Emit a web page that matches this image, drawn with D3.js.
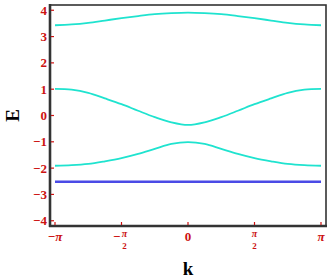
<!DOCTYPE html>
<html>
<head>
<meta charset="utf-8">
<script src="https://cdn.jsdelivr.net/npm/d3@7"></script>
<style>
  body { margin: 0; background: #fff; }
  svg { display: block; }
</style>
</head>
<body>
<div id="chart"></div>
<script>
var PI = Math.PI;

var kValues = [-PI, -7 * PI / 8, -3 * PI / 4, -5 * PI / 8, -PI / 2, -3 * PI / 8, -PI / 4, -PI / 8, 0,
  PI / 8, PI / 4, 3 * PI / 8, PI / 2, 5 * PI / 8, 3 * PI / 4, 7 * PI / 8, PI];
var band1 = [3.43, 3.46, 3.52, 3.61, 3.70, 3.78, 3.85, 3.89, 3.91,
  3.89, 3.85, 3.78, 3.70, 3.61, 3.52, 3.46, 3.43];
var band2 = [1.01, 0.98, 0.86, 0.65, 0.43, 0.18, -0.06, -0.26, -0.36,
  -0.26, -0.06, 0.18, 0.43, 0.65, 0.86, 0.98, 1.01];
var band3 = [-1.91, -1.89, -1.84, -1.74, -1.62, -1.46, -1.27, -1.08, -1.01,
  -1.08, -1.27, -1.46, -1.62, -1.74, -1.84, -1.89, -1.91];
var flatBand = [-2.52, -2.52, -2.52, -2.52, -2.52, -2.52, -2.52, -2.52, -2.52,
  -2.52, -2.52, -2.52, -2.52, -2.52, -2.52, -2.52, -2.52];

var yTicks = [-4, -3, -2, -1, 0, 1, 2, 3, 4];
var xTicks = [-PI, -PI / 2, 0, PI / 2, PI];
var xTickLabels = [
  { sign: '\u2212', num: '\u03C0', den: null },
  { sign: '\u2212', num: '\u03C0', den: '2' },
  { sign: '', num: '0', den: null },
  { sign: '', num: '\u03C0', den: '2' },
  { sign: '', num: '\u03C0', den: null }
];

var w = 327, h = 280;
var mLeft = 50, mRight = 326, mTop = 5, mBottom = 226;
var red = '#cc1111';
var serif = '"Liberation Serif", "DejaVu Serif", serif';

var svg = d3.select('#chart').append('svg').attr('width', w).attr('height', h);

var pad = 0.118;
var x = d3.scaleLinear().domain([-PI - pad, PI + pad]).range([mLeft, mRight]);
var y = d3.scaleLinear().domain([-4.2, 4.2]).range([mBottom, mTop]);

// bands
var line = d3.line()
  .x(function(d, i) { return x(kValues[i]); })
  .y(function(d) { return y(d); })
  .curve(d3.curveCatmullRom);

var bands = [
  { values: band1, color: '#1fe3cf' },
  { values: band2, color: '#1fe3cf' },
  { values: band3, color: '#1fe3cf' },
  { values: flatBand, color: '#4b4be6' }
];

svg.append('g').selectAll('path')
  .data(bands)
  .enter()
  .append('path')
  .attr('d', function(d) { return line(d.values); })
  .attr('fill', 'none')
  .attr('stroke', function(d) { return d.color; })
  .attr('stroke-width', function(d) { return d.color == '#4b4be6' ? 2.4 : 1.8; });

// frame
svg.append('rect')
  .attr('x', mLeft).attr('y', mTop)
  .attr('width', mRight - mLeft).attr('height', mBottom - mTop)
  .attr('fill', 'none').attr('stroke', '#333').attr('stroke-width', 1.6);
svg.append('line')
  .attr('x1', mLeft).attr('x2', mLeft).attr('y1', mTop - 1).attr('y2', mBottom + 1)
  .attr('stroke', '#333').attr('stroke-width', 2.6);
svg.append('line')
  .attr('x1', mLeft - 1).attr('x2', mRight + 1).attr('y1', mBottom).attr('y2', mBottom)
  .attr('stroke', '#333').attr('stroke-width', 2.6);

// y ticks
var yAxis = svg.append('g');
yAxis.selectAll('line')
  .data(yTicks)
  .enter()
  .append('line')
  .attr('x1', mLeft + 1).attr('x2', mLeft + 4)
  .attr('y1', function(d) { return y(d); })
  .attr('y2', function(d) { return y(d); })
  .attr('stroke', red).attr('stroke-width', 1.2);

yAxis.selectAll('text')
  .data(yTicks)
  .enter()
  .append('text')
  .attr('x', mLeft - 3)
  .attr('y', function(d) { return y(d) + 4.5; })
  .attr('text-anchor', 'end')
  .attr('font-family', serif)
  .attr('font-weight', 'bold')
  .attr('font-size', 13)
  .attr('fill', red)
  .text(function(d) { return d < 0 ? '\u2212' + Math.abs(d) : d; });

// x ticks
var xAxis = svg.append('g');
xAxis.selectAll('line')
  .data(xTicks)
  .enter()
  .append('line')
  .attr('x1', function(d) { return x(d); })
  .attr('x2', function(d) { return x(d); })
  .attr('y1', mBottom - 1).attr('y2', mBottom - 4)
  .attr('stroke', red).attr('stroke-width', 1.2);

var xLabels = xAxis.selectAll('g.lab')
  .data(xTicks)
  .enter()
  .append('g')
  .attr('class', 'lab')
  .attr('transform', function(d) { return 'translate(' + x(d) + ',0)'; })
  .attr('font-family', serif)
  .attr('font-weight', 'bold')
  .attr('fill', red);

xLabels.each(function(d, i) {
  var lab = xTickLabels[i];
  var g = d3.select(this);
  if (lab.den == null) {
    var t = g.append('text')
      .attr('x', 0).attr('y', 241)
      .attr('text-anchor', 'middle')
      .attr('font-size', 13);
    if (lab.sign) t.append('tspan').text(lab.sign);
    t.append('tspan')
      .attr('font-style', lab.num == '0' ? 'normal' : 'italic')
      .text(lab.num);
  } else {
    var off = lab.sign ? 3 : 0;
    if (lab.sign) {
      g.append('text')
        .attr('x', off - 4).attr('y', 241)
        .attr('text-anchor', 'end')
        .attr('font-size', 13)
        .text(lab.sign);
    }
    g.append('text')
      .attr('x', off).attr('y', 237)
      .attr('text-anchor', 'middle')
      .attr('font-size', 10)
      .attr('font-style', 'italic')
      .text(lab.num);
    g.append('text')
      .attr('x', off).attr('y', 249)
      .attr('text-anchor', 'middle')
      .attr('font-size', 9)
      .text(lab.den);
  }
});

// axis titles
svg.append('text')
  .attr('x', x(0)).attr('y', 275)
  .attr('text-anchor', 'middle')
  .attr('font-family', serif)
  .attr('font-weight', 'bold')
  .attr('font-size', 19)
  .text('k');

svg.append('text')
  .attr('transform', 'translate(19,' + y(0) + ') rotate(-90)')
  .attr('text-anchor', 'middle')
  .attr('font-family', serif)
  .attr('font-weight', 'bold')
  .attr('font-size', 19)
  .text('E');
</script>
</body>
</html>
